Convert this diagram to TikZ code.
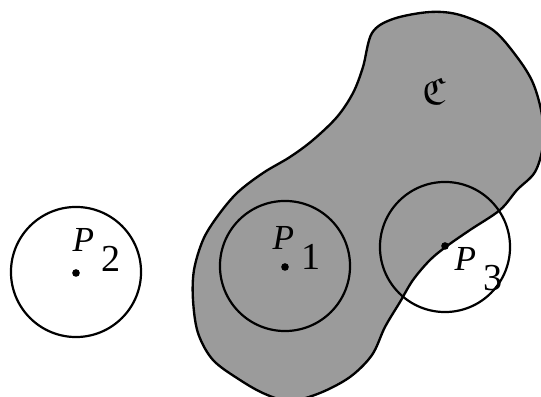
\documentclass[tikz,border=0pt]{standalone}
\usepackage{fontspec}
\setmainfont{Liberation Serif}
\usepackage{amssymb}
\usetikzlibrary{positioning}

\definecolor{regiongray}{RGB}{155,155,155}

% point name: italic P with a full size index set low
\newcommand{\ptname}[1]{{\itshape P}\kern2.5pt\raisebox{-6.8pt}{\fontsize{13}{15}\selectfont #1}}

\begin{document}
\begin{tikzpicture}[
  x=0.012cm, y=-0.012cm,
  region/.style={draw, line width=0.8pt, fill=regiongray},
  disc/.style={circle, draw, line width=0.75pt, minimum size=1.56cm, inner sep=0pt},
  pt/.style={circle, fill, inner sep=0pt, minimum size=2.6pt},
  lbl/.style={anchor=base west, inner sep=0pt, font=\fontsize{12}{14}\selectfont},
]
  \useasboundingbox (0,0) rectangle (541,397);
  \clip (0,0) rectangle (541,397);

  % the region C
  \draw[region] plot[smooth cycle, tension=0.55] coordinates {
    (372,33) (393,19) (430,12) (460,15) (493,30) (517,57) (533,83)
    (542,115) (543,145) (535,172) (517,190) (500,210) (470,230)
    (447,246) (430,260) (413,280) (400,302) (385,327) (372,355)
    (350,377) (320,393) (290,401) (265,394) (240,380) (213,360)
    (198,333) (193,300) (194,270) (203,240) (217,217) (237,193)
    (263,173) (290,157) (313,140) (337,117) (353,93) (363,67)};
  \node (regname) at (434,91) {\fontsize{13}{15}\selectfont$\mathfrak{C}$};

  % discs round the three points
  \node[disc] (c2) at (76,272) {};
  \node[disc] (c1) at (285,266) {};
  \node[disc] (c3) at (445,247) {};

  \node[pt] (p2) at (76,273) {};
  \node[pt] (p1) at (285,267) {};
  \node[pt] (p3) at (445,246) {};

  \node[lbl] (l2) at (72,252) {\ptname{2}};
  \node[lbl] (l1) at (272,250) {\ptname{1}};
  \node[lbl] (l3) at (454,271) {\ptname{3}};
\end{tikzpicture}
\end{document}
